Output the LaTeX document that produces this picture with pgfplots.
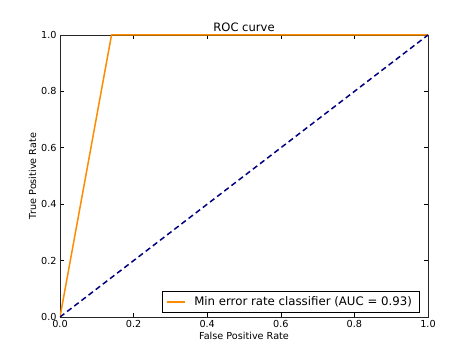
\documentclass[border=0pt]{standalone}
\usepackage{pgfplots}
\pgfplotsset{compat=1.18}
\usepackage{fontspec}
\setmainfont{DejaVu Sans}
\begin{document}
\begin{tikzpicture}
\begin{axis}[
  scale only axis,
  width=368bp, height=282bp,
  xmin=0, xmax=1, ymin=0, ymax=1,
  xtick={0,0.2,...,1.0}, ytick={0,0.2,...,1.0},
  xticklabel style={/pgf/number format/.cd,fixed,fixed zerofill,precision=1},
  yticklabel style={/pgf/number format/.cd,fixed,fixed zerofill,precision=1},
  /pgf/number format/assume math mode=true,
  tick align=inside,
  tick style={black, line width=0.6pt},
  major tick length=4bp,
  axis line style={line width=0.8pt, black!85},
  font=\fontsize{9.7}{11}\selectfont,
  ticklabel style={font=\fontsize{9.7}{11}\selectfont},
  title={ROC curve},
  title style={font=\fontsize{11.6}{13}\selectfont, yshift=-6bp},
  xlabel={False Positive Rate},
  ylabel={True Positive Rate},
  xlabel style={yshift=3bp},
  ylabel style={yshift=-2bp},
  legend style={font=\fontsize{11.8}{13}\selectfont, draw=black, line width=0.6pt, inner xsep=4bp, inner ysep=3.5bp, at={(0.976,0.014)}, anchor=south east,
    nodes={inner xsep=3bp}},
  legend cell align=left,
  legend image code/.code={\draw[#1, line width=1.2bp] (0bp,0bp) -- (18bp,0bp);},
  legend style={column sep=0bp},
]
\addplot[color={rgb,255:red,255;green,140;blue,0}, line width=1.5bp] coordinates {(0,0) (0.14,1) (1,1)};
\addlegendentry{\hspace{6bp}Min error rate classifier (AUC = 0.93)}
\addplot[color={rgb,255:red,0;green,0;blue,128}, line width=1.5bp, dash pattern=on 5.5bp off 3.5bp, forget plot] coordinates {(0,0) (1,1)};
\end{axis}
\path (current axis.south west) ++(-60bp,-36bp) coordinate (bl);
\path (current axis.north east) ++(46bp,35bp) coordinate (tr);
\useasboundingbox (bl) rectangle (tr);
\end{tikzpicture}
\end{document}
